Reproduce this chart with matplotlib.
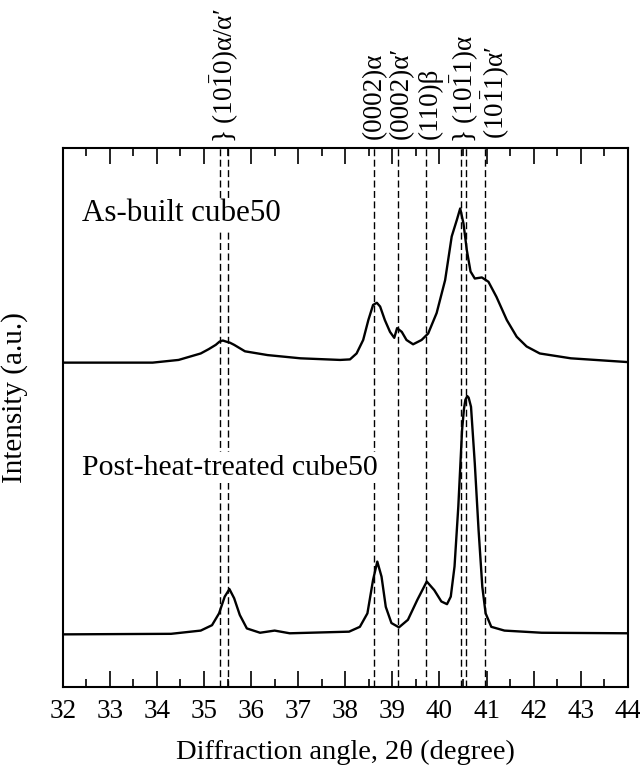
import matplotlib.pyplot as plt

plt.rcParams['font.family'] = ['Liberation Serif', 'DejaVu Serif']
plt.rcParams['mathtext.fontset'] = 'custom'
plt.rcParams['mathtext.rm'] = 'Liberation Serif'

# As-built cube50 (2theta, intensity in arbitrary units)
asbuilt_x = [32.0, 33.91, 34.46, 34.93, 35.10, 35.25, 35.33, 35.40, 35.47, 35.55,
             35.64, 35.87, 36.35, 37.05, 37.89, 38.10, 38.24, 38.38, 38.49, 38.59,
             38.67, 38.74, 38.84, 38.95, 39.04, 39.10, 39.20, 39.30, 39.44, 39.62,
             39.76, 39.94, 40.12, 40.26, 40.37, 40.44, 40.51, 40.58, 40.66, 40.75,
             40.90, 41.04, 41.21, 41.43, 41.64, 41.85, 42.13, 42.79, 44.0]
asbuilt_y = [60.1, 60.1, 60.6, 61.8, 62.6, 63.4, 64.0, 64.2, 64.0, 63.8,
             63.4, 62.2, 61.5, 60.9, 60.6, 60.7, 61.8, 64.3, 68.0, 70.8,
             71.2, 70.5, 68.0, 65.8, 64.7, 66.5, 65.8, 64.3, 63.5, 64.3,
             65.5, 69.3, 75.4, 83.5, 86.6, 88.7, 85.9, 81.0, 77.0, 75.7,
             75.9, 75.1, 72.3, 68.0, 64.9, 63.1, 61.8, 60.9, 60.2]

# Post-heat-treated cube50
heat_x = [32.0, 34.30, 34.93, 35.17, 35.32, 35.44, 35.54, 35.64, 35.76, 35.91,
          36.19, 36.50, 36.82, 38.08, 38.31, 38.47, 38.59, 38.68, 38.77, 38.86,
          38.98, 39.14, 39.33, 39.53, 39.73, 39.89, 40.04, 40.16, 40.24, 40.32,
          40.40, 40.48, 40.52, 40.55, 40.59, 40.62, 40.67, 40.75, 40.83, 40.91,
          40.98, 41.10, 41.38, 42.17, 44.0]
heat_y = [9.7, 9.8, 10.4, 11.4, 13.6, 16.7, 18.1, 16.4, 13.3, 10.8,
          10.0, 10.4, 9.9, 10.2, 11.1, 13.6, 19.8, 23.2, 20.4, 14.8,
          11.8, 11.0, 12.4, 16.1, 19.5, 17.9, 15.8, 15.3, 16.7, 22.3,
          33.4, 47.6, 51.5, 53.2, 53.9, 53.6, 51.9, 41.4, 29.1, 18.5,
          13.6, 11.1, 10.4, 10.0, 9.9]

# reference peak positions
ref_lines = [35.35, 35.52, 38.62, 39.13, 39.72, 40.45, 40.56, 40.97]
peak_labels = [r'} (10$\bar{1}$0)α/α′', '(0002)α', '(0002)α′', '(110)β',
               r'} (10$\bar{1}$1)α', r'(10$\bar{1}$1)α′']
peak_label_x = [35.446, 38.609, 39.197, 39.798, 40.531, 41.199]

fig = plt.figure(figsize=(6.4, 7.78), dpi=100)
ax = fig.add_axes([0.098, 0.1174, 0.883, 0.693])

for x in ref_lines:
    ax.axvline(x, color='black', lw=1.0, dashes=(5, 2.5), zorder=1)

ax.plot(asbuilt_x, asbuilt_y, color='black', lw=1.7, zorder=2)
ax.plot(heat_x, heat_y, color='black', lw=1.7, zorder=2)

ax.text(32.42, 87.7, 'As-built cube50', fontsize=22.3, va='center', ha='left',
        zorder=3, bbox=dict(facecolor='white', edgecolor='none', pad=1))
ax.text(32.42, 40.6, 'Post-heat-treated cube50', fontsize=21.5, va='center', ha='left',
        zorder=3, bbox=dict(facecolor='white', edgecolor='none', pad=2))

for lab, x in zip(peak_labels, peak_label_x):
    y0 = 100.8 if lab.startswith('}') else 101.6
    ax.text(x, y0, lab, rotation=90, fontsize=19.5, ha='center', va='bottom',
            clip_on=False)

ax.set_xlim(32, 44)
ax.set_ylim(0, 100)
ax.set_xticks(range(32, 45))
ax.set_xticks([32.5 + i for i in range(12)], minor=True)
ax.set_yticks([])
ax.tick_params(axis='x', which='both', direction='in', top=True, bottom=True,
               labelsize=19.5, pad=9, width=1.2)
ax.tick_params(axis='x', which='major', length=11.5)
ax.tick_params(axis='x', which='minor', length=6)
for s in ax.spines.values():
    s.set_linewidth(1.5)

ax.set_xlabel('Diffraction angle, 2θ (degree)', fontsize=20.5, labelpad=11)
ax.set_ylabel('Intensity (a.u.)', fontsize=21)
ax.yaxis.set_label_coords(-0.061, 0.537)

fig.savefig('out.png', dpi=100)
